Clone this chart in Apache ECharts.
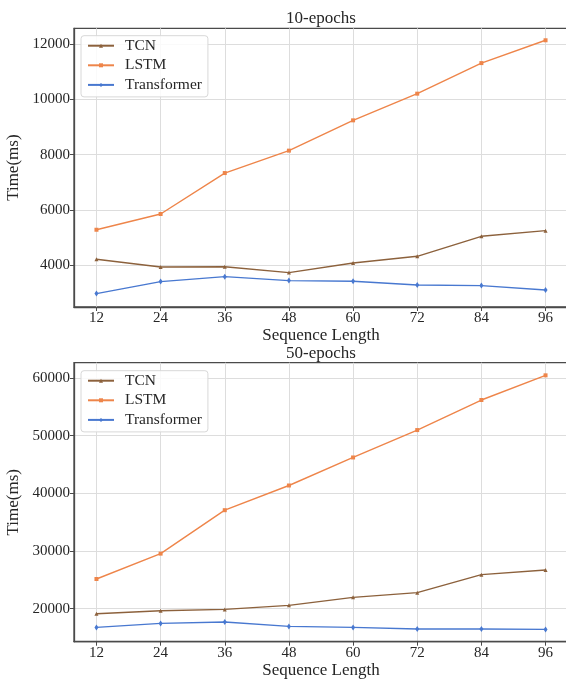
<!DOCTYPE html>
<html>
<head>
<meta charset="utf-8">
<script src="https://cdn.jsdelivr.net/npm/echarts@6/dist/echarts.min.js"></script>
<style>
html,body{margin:0;padding:0;background:#fff;}
#c{width:566px;height:680px;}
</style>
</head>
<body>
<div id="c"></div>
<script>
// ---- data ----
const seqLen = [12, 24, 36, 48, 60, 72, 84, 96];
const tcn10 = [4217, 3940, 3945, 3735, 4084, 4325, 5048, 5253];
const lstm10 = [5285, 5855, 7335, 8145, 9240, 10205, 11310, 12135];
const trans10 = [2976, 3410, 3590, 3446, 3422, 3289, 3265, 3108];
const tcn50 = [19130, 19650, 19880, 20580, 21970, 22780, 25900, 26715];
const lstm50 = [25150, 29550, 37080, 41360, 46220, 50970, 56180, 60460];
const trans50 = [16760, 17450, 17690, 16930, 16760, 16470, 16470, 16410];
const yTicks10 = [4000, 6000, 8000, 10000, 12000];
const yTicks50 = [20000, 30000, 40000, 50000, 60000];
const seriesNames = ['TCN', 'LSTM', 'Transformer'];
const titles = ['10-epochs', '50-epochs'];

const colors = ['#8c613c', '#ee854a', '#4878d0'];
const symbols = ['triangle', 'rect', 'diamond'];
const FONT = '"Liberation Serif", "Times New Roman", serif';
const TXT = '#262626';
const FRAME = '#4a4a4a';

function pairs(vals) { return seqLen.map((x, i) => [x, vals[i]]); }

const grids = [
  { left: 74, top: 28.3, width: 494, height: 278.7 },
  { left: 74, top: 362.7, width: 494, height: 279 }
];

const chart = echarts.init(document.getElementById('c'), null, { renderer: 'canvas' });

const xAxes = [0, 1].map(g => ({
  type: 'value', gridIndex: g, min: 7.8, max: 100.2,
  name: 'Sequence Length', nameLocation: 'middle', nameGap: 19,
  nameTextStyle: { fontFamily: FONT, fontSize: 17, color: TXT },
  axisLine: { show: true, onZero: false, lineStyle: { color: FRAME, width: 1.3 } },
  axisTick: { show: true, inside: false, length: 4, customValues: seqLen, lineStyle: { color: FRAME, width: 1 } },
  axisLabel: { customValues: seqLen, margin: 4, fontFamily: FONT, fontSize: 15, color: TXT, formatter: v => String(v) },
  splitLine: { show: true, lineStyle: { color: '#dddddd', width: 1 } }
}));

const yRanges = [[2492, 12568], [14280, 62650]];
const yTickSets = [yTicks10, yTicks50];
const yAxes = [0, 1].map(g => ({
  type: 'value', gridIndex: g, min: yRanges[g][0], max: yRanges[g][1],
  name: 'Time(ms)', nameLocation: 'middle', nameGap: 48, nameRotate: 90,
  nameTextStyle: { fontFamily: FONT, fontSize: 17, color: TXT },
  axisLine: { show: true, onZero: false, lineStyle: { color: FRAME, width: 1.3 } },
  axisTick: { show: true, inside: false, length: 4, customValues: yTickSets[g], lineStyle: { color: FRAME, width: 1 } },
  axisLabel: { customValues: yTickSets[g], margin: 4, fontFamily: FONT, fontSize: 15, color: TXT, formatter: v => String(v) },
  splitLine: { show: true, lineStyle: { color: '#dddddd', width: 1 } }
}));

const data = [[tcn10, lstm10, trans10], [tcn50, lstm50, trans50]];
const series = [];
[0, 1].forEach(g => {
  seriesNames.forEach((n, k) => {
    series.push({
      type: 'line', name: n, xAxisIndex: g, yAxisIndex: g,
      data: pairs(data[g][k]),
      symbol: symbols[k], symbolSize: k === 2 ? [4, 6] : 4,
      showSymbol: true,
      lineStyle: { color: colors[k], width: 1.4 },
      itemStyle: { color: colors[k] },
      z: 3 + k
    });
  });
});

const legendTops = [35.7, 370.7];
const legends = [0, 1].map(g => ({
  orient: 'vertical', left: 81, top: legendTops[g],
  data: seriesNames,
  seriesIndex: [3 * g, 3 * g + 1, 3 * g + 2],
  itemWidth: 26, itemHeight: 5, itemGap: 3.6,
  padding: [2, 6, 4, 6],
  backgroundColor: 'rgba(255,255,255,0.85)',
  borderColor: '#d8d8d8', borderWidth: 1, borderRadius: 3,
  textStyle: { fontFamily: FONT, fontSize: 15.5, color: TXT, padding: [0, 0, 0, 6] },
  selectedMode: false
}));

const titleTops = [18.3, 353.3];
const titleOpts = [0, 1].map(g => ({
  text: titles[g], left: 321, top: titleTops[g], textAlign: 'center', textVerticalAlign: 'middle',
  padding: 0,
  textStyle: { fontFamily: FONT, fontSize: 17, fontWeight: 'normal', color: TXT }
}));

chart.setOption({
  animation: false,
  backgroundColor: '#ffffff',
  title: titleOpts,
  grid: grids.map(g => Object.assign({ show: true, borderColor: FRAME, borderWidth: 1.3, backgroundColor: '#fff', containLabel: false, outerBoundsMode: 'none' }, g)),
  xAxis: xAxes,
  yAxis: yAxes,
  legend: legends,
  series: series
});
</script>
</body>
</html>
